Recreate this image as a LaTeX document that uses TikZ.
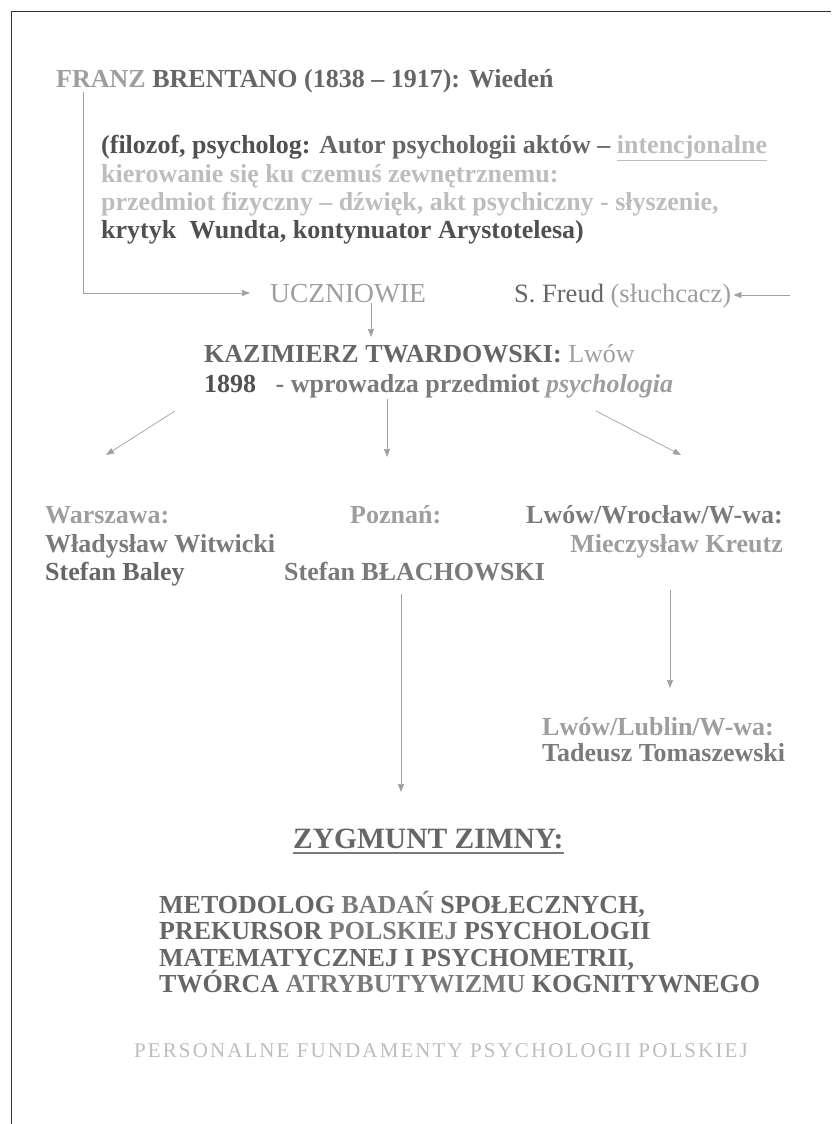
\documentclass[tikz,border=0pt]{standalone}
\usepackage{fontspec}
\setmainfont{Liberation Serif}
\newfontfamily\tms{Liberation Serif}
\newfontfamily\tmsls{Liberation Serif}[LetterSpace=10]
\usetikzlibrary{arrows.meta}
\definecolor{cdark}{HTML}{505050}
\definecolor{cdm}{HTML}{666666}
\definecolor{cmid}{HTML}{7A7A7A}
\definecolor{clight}{HTML}{9E9E9E}
\definecolor{cvlight}{HTML}{BDBDBD}
\definecolor{cline}{HTML}{A0A0A0}
\tikzset{
  txt/.style={anchor=base west, inner sep=0pt, font=\tms\fontsize{26}{30}\selectfont\bfseries},
  txtr/.style={anchor=base east, inner sep=0pt, font=\tms\fontsize{26}{30}\selectfont\bfseries},
  reg/.style={anchor=base west, inner sep=0pt, font=\tms\fontsize{26.5}{30}\selectfont},
  arr/.style={draw=cline, line width=0.7pt, -{Triangle[width=6pt,length=8pt]}},
  frame/.style={draw=black!80, line width=1pt},
}
\begin{document}
\begin{tikzpicture}[x=1pt,y=-1pt]
\useasboundingbox (0,0) rectangle (831,1124);
\draw[frame] (831,12) -- (11,12) -- (11,1124);

% Brentano
\node[txt, text=cdm] (franz) at (56,88)
  {\textcolor{clight}{FRANZ} BRENTANO (1838 – 1917): Wiedeń};

\node[txt, text=cdark] (p1) at (101,153) {(filozof, psycholog: \textcolor{cdm}{Autor psychologii aktów –} \textcolor{cvlight}{\underline{intencjonalne}}};
\node[txt, text=cvlight] (p2) at (101,182) {kierowanie się ku czemuś zewnętrznemu:};
\node[txt, text=cvlight] (p3) at (101,210) {przedmiot fizyczny – dźwięk, akt psychiczny - słyszenie,};
\node[txt, text=cdark] (p4) at (101,238) {krytyk\ \ Wundta, kontynuator Arystotelesa)};

% pupils
\node[reg, font=\tms\fontsize{27.5}{30}\selectfont, text=clight] (ucz) at (270,302) {UCZNIOWIE};
\node[reg, text=cdm] (freud) at (514,302) {S. Freud \textcolor{clight}{(słuchcacz)}};
\coordinate (bstart) at (83,92);
\coordinate (fstart) at (790,295);
\draw[arr] (bstart) |- ([xshift=-20pt]ucz.west |- 0,293);
\draw[arr] (fstart) -- ([xshift=2pt]freud.east |- 0,295);

% Twardowski
\node[txt, text=cdm] (kaz) at (204,362) {KAZIMIERZ TWARDOWSKI: \textcolor{clight}{\mdseries Lwów}};
\node[txt, text=cdark] (y1898) at (204,392) {1898\ \ \ \textcolor{cmid}{- wprowadza przedmiot} \textcolor{clight}{\itshape psychologia}};
\draw[arr] (ucz.south -| 371,0) -- (371,337);

% branches
\coordinate (kl) at (175,411);
\coordinate (km) at (387,399);
\coordinate (kr) at (596,411);
\coordinate (tl) at (106,455);
\coordinate (tm) at (387,457);
\coordinate (tr) at (681,455);
\draw[arr] (kl) -- (tl);
\draw[arr] (km) -- (tm);
\draw[arr] (kr) -- (tr);

\node[txt, text=clight] (war) at (45,523) {Warszawa:};
\node[txt, text=cmid] (wit) at (45,552) {Władysław Witwicki};
\node[txt, text=cdm] (bal) at (45,580) {Stefan Baley};
\node[txt, text=clight] (poz) at (350,523) {Poznań:};
\node[txt, text=cmid] (bla) at (284,580) {Stefan BŁACHOWSKI};
\node[txtr, text=cmid] (lww) at (783,523) {Lwów/Wrocław/W-wa:};
\node[txtr, text=clight] (kre) at (783,552) {Mieczysław Kreutz};

% Tomaszewski
\node[txt, text=clight] (llw) at (542,735) {Lwów/Lublin/W-wa:};
\node[txt, text=cmid] (tom) at (542,761) {Tadeusz Tomaszewski};
\draw[arr] (670,590) -- (670,688);

% Zimny
\node[txt, font=\tms\fontsize{29.5}{32}\selectfont\bfseries, text=cdm] (zyg) at (293,848) {ZYGMUNT ZIMNY:};
\draw[cmid, line width=1.6pt] ([yshift=-5pt]zyg.base west) -- ([yshift=-5pt]zyg.base east);
\draw[arr] (401,594) -- (401,792);

\node[txt, text=cdm] (m1) at (159,913) {METODOLOG \textcolor{cmid}{BADAŃ} SPOŁECZNYCH,};
\node[txt, text=cdm] (m2) at (159,939) {PREKURSOR \textcolor{cmid}{POLSKIEJ} PSYCHOLOGII};
\node[txt, text=cdm] (m3) at (159,966) {MATEMATYCZNEJ I PSYCHOMETRII,};
\node[txt, text=cdm] (m4) at (159,992) {TWÓRCA \textcolor{cmid}{ATRYBUTYWIZMU} KOGNITYWNEGO};

\node[reg, font=\tmsls\fontsize{21}{24}\selectfont, text=cvlight] (pers) at (134,1057) {PERSONALNE FUNDAMENTY PSYCHOLOGII POLSKIEJ};
\end{tikzpicture}
\end{document}
